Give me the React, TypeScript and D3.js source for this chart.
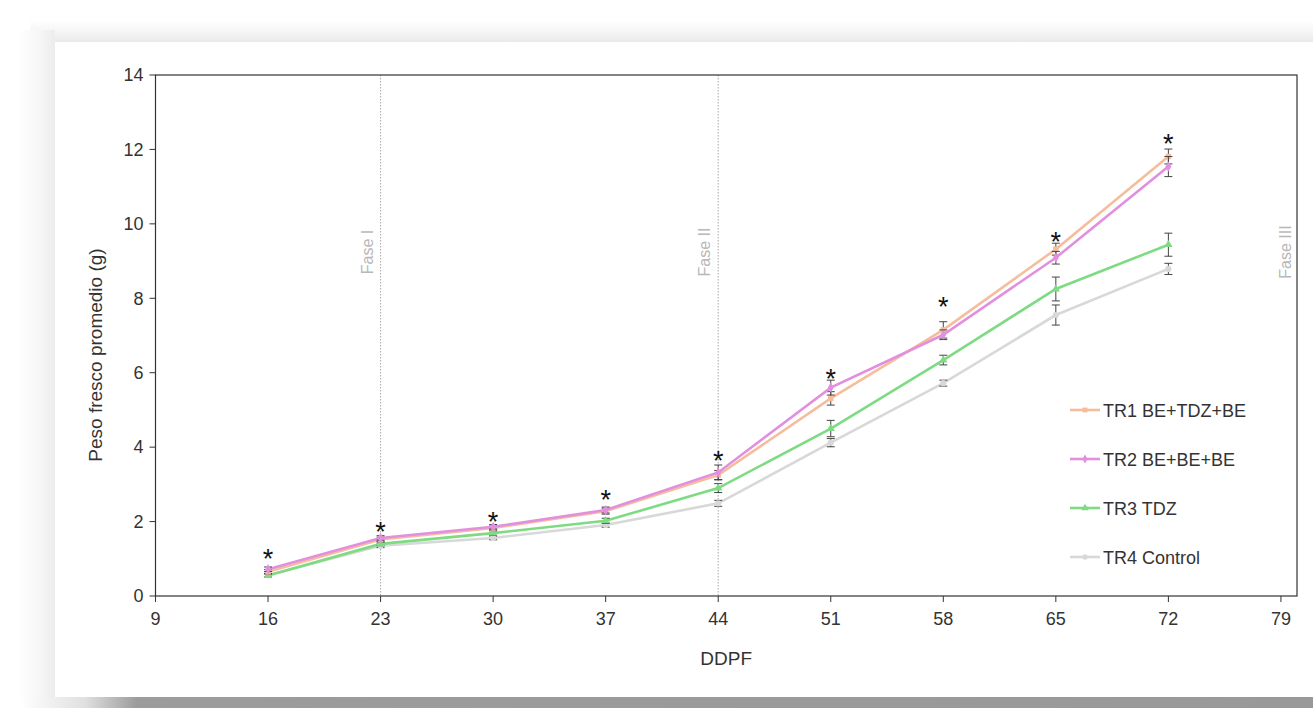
import React from 'react';
import * as d3 from 'd3';

// DDPF sampling days
const days = [16, 23, 30, 37, 44, 51, 58, 65, 72];

const seriesNames = ['TR1 BE+TDZ+BE', 'TR2 BE+BE+BE', 'TR3 TDZ', 'TR4 Control'];

// mean fresh weight (g)
const tr1 = [0.65, 1.52, 1.83, 2.28, 3.25, 5.31, 7.15, 9.32, 11.81];
const tr2 = [0.72, 1.56, 1.86, 2.31, 3.32, 5.6, 7.02, 9.09, 11.54];
const tr3 = [0.55, 1.4, 1.69, 2.02, 2.9, 4.5, 6.34, 8.25, 9.44];
const tr4 = [0.56, 1.35, 1.56, 1.91, 2.49, 4.12, 5.72, 7.55, 8.79];

// error bars (+/-)
const tr1Err = [0.06, 0.06, 0.05, 0.08, 0.12, 0.18, 0.22, 0.16, 0.2];
const tr2Err = [0.06, 0.06, 0.06, 0.08, 0.2, 0.2, 0.13, 0.17, 0.27];
const tr3Err = [0.05, 0.05, 0.06, 0.07, 0.12, 0.22, 0.13, 0.32, 0.31];
const tr4Err = [0.05, 0.05, 0.05, 0.06, 0.08, 0.11, 0.08, 0.27, 0.15];

// height of the significance marker (*) for each day
const starLevel = [1.13, 1.85, 2.12, 2.72, 3.76, 5.97, 7.9, 9.65, 12.29];

const xTicks = [9, 16, 23, 30, 37, 44, 51, 58, 65, 72, 79];
const yTicks = [0, 2, 4, 6, 8, 10, 12, 14];

const phases = [
  { label: 'Fase I', day: 23, line: true },
  { label: 'Fase II', day: 44, line: true },
  { label: 'Fase III', day: 79.6, line: false },
];

const colors = ['#f5bd9c', '#e28fe0', '#7edb83', '#d8d8d8'];
const symbols = [d3.symbolSquare, d3.symbolDiamond, d3.symbolTriangle, d3.symbolCircle];

const W = 1313;
const H = 708;
const font = 'Liberation Sans, Arial, sans-serif';

export default function App() {
  const x = d3.scaleLinear().domain([9, 80]).range([155.5, 1297]);
  const y = d3.scaleLinear().domain([0, 14]).range([596, 75]);

  const values = [tr1, tr2, tr3, tr4];
  const errs = [tr1Err, tr2Err, tr3Err, tr4Err];
  const line = d3
    .line<number>()
    .x((_, i) => x(days[i]))
    .y((d) => y(d));

  const drawOrder = [3, 2, 0, 1];

  return (
    <svg
      width={W}
      height={H}
      style={{ position: 'absolute', left: 0, top: 0, fontFamily: font }}
    >
      <defs>
        <linearGradient id="topShade" x1="0" y1="0" x2="0" y2="1">
          <stop offset="0" stopColor="#ffffff" />
          <stop offset="0.6" stopColor="#f4f4f4" />
          <stop offset="1" stopColor="#e9e9e9" />
        </linearGradient>
        <linearGradient id="leftShade" x1="0" y1="0" x2="1" y2="0">
          <stop offset="0" stopColor="#ffffff" />
          <stop offset="0.6" stopColor="#f6f6f6" />
          <stop offset="1" stopColor="#ececec" />
        </linearGradient>
        <linearGradient id="bottomShade" x1="0" y1="0" x2="1" y2="0">
          <stop offset="0" stopColor="#ffffff" />
          <stop offset="0.05" stopColor="#e0e0e0" />
          <stop offset="0.09" stopColor="#9c9c9c" />
          <stop offset="1" stopColor="#999999" />
        </linearGradient>
      </defs>

      {/* page + card */}
      <rect width={W} height={H} fill="#ffffff" />
      <rect x={30} y={20} width={W - 30} height={22} fill="url(#topShade)" />
      <rect x={18} y={30} width={37} height={H - 30} fill="url(#leftShade)" />
      <rect x={20} y={697} width={W - 20} height={11} fill="url(#bottomShade)" />
      <rect x={55} y={42} width={W - 55} height={655} fill="#ffffff" />

      {/* phase separators */}
      {phases
        .filter((p) => p.line)
        .map((p) => (
          <line
            key={p.label}
            x1={x(p.day)}
            x2={x(p.day)}
            y1={y(14)}
            y2={y(0)}
            stroke="#a8a8a8"
            strokeWidth={1}
            strokeDasharray="1.5,1.5"
          />
        ))}
      {phases.map((p, i) => {
        const px = i === 2 ? 1291 : x(p.day) - 8;
        return (
          <text
            key={p.label}
            transform={`translate(${px},252) rotate(-90)`}
            textAnchor="middle"
            fontSize={16}
            fill="#b8b8b8"
          >
            {p.label}
          </text>
        );
      })}

      {/* frame */}
      <rect
        x={x(9)}
        y={y(14)}
        width={x(80) - x(9)}
        height={y(0) - y(14)}
        fill="none"
        stroke="#333"
        strokeWidth={1.2}
      />

      {/* y axis ticks */}
      {yTicks.map((t) => (
        <g key={t}>
          <line x1={x(9) - 6} x2={x(9)} y1={y(t)} y2={y(t)} stroke="#333" />
          <text
            x={x(9) - 12}
            y={y(t)}
            dy="0.35em"
            textAnchor="end"
            fontSize={18}
            fill="#333"
          >
            {t}
          </text>
        </g>
      ))}
      {/* x axis ticks */}
      {xTicks.map((t) => (
        <g key={t}>
          <line x1={x(t)} x2={x(t)} y1={y(0)} y2={y(0) + 6} stroke="#333" />
          <text x={x(t)} y={625} textAnchor="middle" fontSize={18} fill="#333">
            {t}
          </text>
        </g>
      ))}

      <text x={x(44) + 8} y={665} textAnchor="middle" fontSize={19} fill="#333">
        DDPF
      </text>
      <text
        transform="translate(102,355) rotate(-90)"
        textAnchor="middle"
        fontSize={19}
        fill="#333"
      >
        Peso fresco promedio (g)
      </text>

      {/* series */}
      {drawOrder.map((s) => (
        <g key={seriesNames[s]}>
          <path
            d={line(values[s]) || ''}
            fill="none"
            stroke={colors[s]}
            strokeWidth={2.6}
          />
          {values[s].map((v, i) => (
            <g key={i}>
              <line
                x1={x(days[i])}
                x2={x(days[i])}
                y1={y(v - errs[s][i])}
                y2={y(v + errs[s][i])}
                stroke="#444"
                strokeWidth={1}
              />
              <line
                x1={x(days[i]) - 4}
                x2={x(days[i]) + 4}
                y1={y(v - errs[s][i])}
                y2={y(v - errs[s][i])}
                stroke="#444"
              />
              <line
                x1={x(days[i]) - 4}
                x2={x(days[i]) + 4}
                y1={y(v + errs[s][i])}
                y2={y(v + errs[s][i])}
                stroke="#444"
              />
              <path
                transform={`translate(${x(days[i])},${y(v)})`}
                d={d3.symbol(symbols[s], 30)() || ''}
                fill={colors[s]}
              />
            </g>
          ))}
        </g>
      ))}

      {/* significance markers */}
      {starLevel.map((v, i) => (
        <text
          key={i}
          x={x(days[i])}
          y={y(v) + 14}
          textAnchor="middle"
          fontSize={27}
          fill="#111"
        >
          *
        </text>
      ))}

      {/* legend */}
      {seriesNames.map((name, i) => {
        const ly = 410 + i * 49;
        return (
          <g key={name}>
            <line x1={1070} x2={1100} y1={ly} y2={ly} stroke={colors[i]} strokeWidth={2.6} />
            <path
              transform={`translate(1085,${ly})`}
              d={d3.symbol(symbols[i], 24)() || ''}
              fill={colors[i]}
            />
            <text x={1103} y={ly + 7} fontSize={18} fill="#333">
              {name}
            </text>
          </g>
        );
      })}
    </svg>
  );
}
